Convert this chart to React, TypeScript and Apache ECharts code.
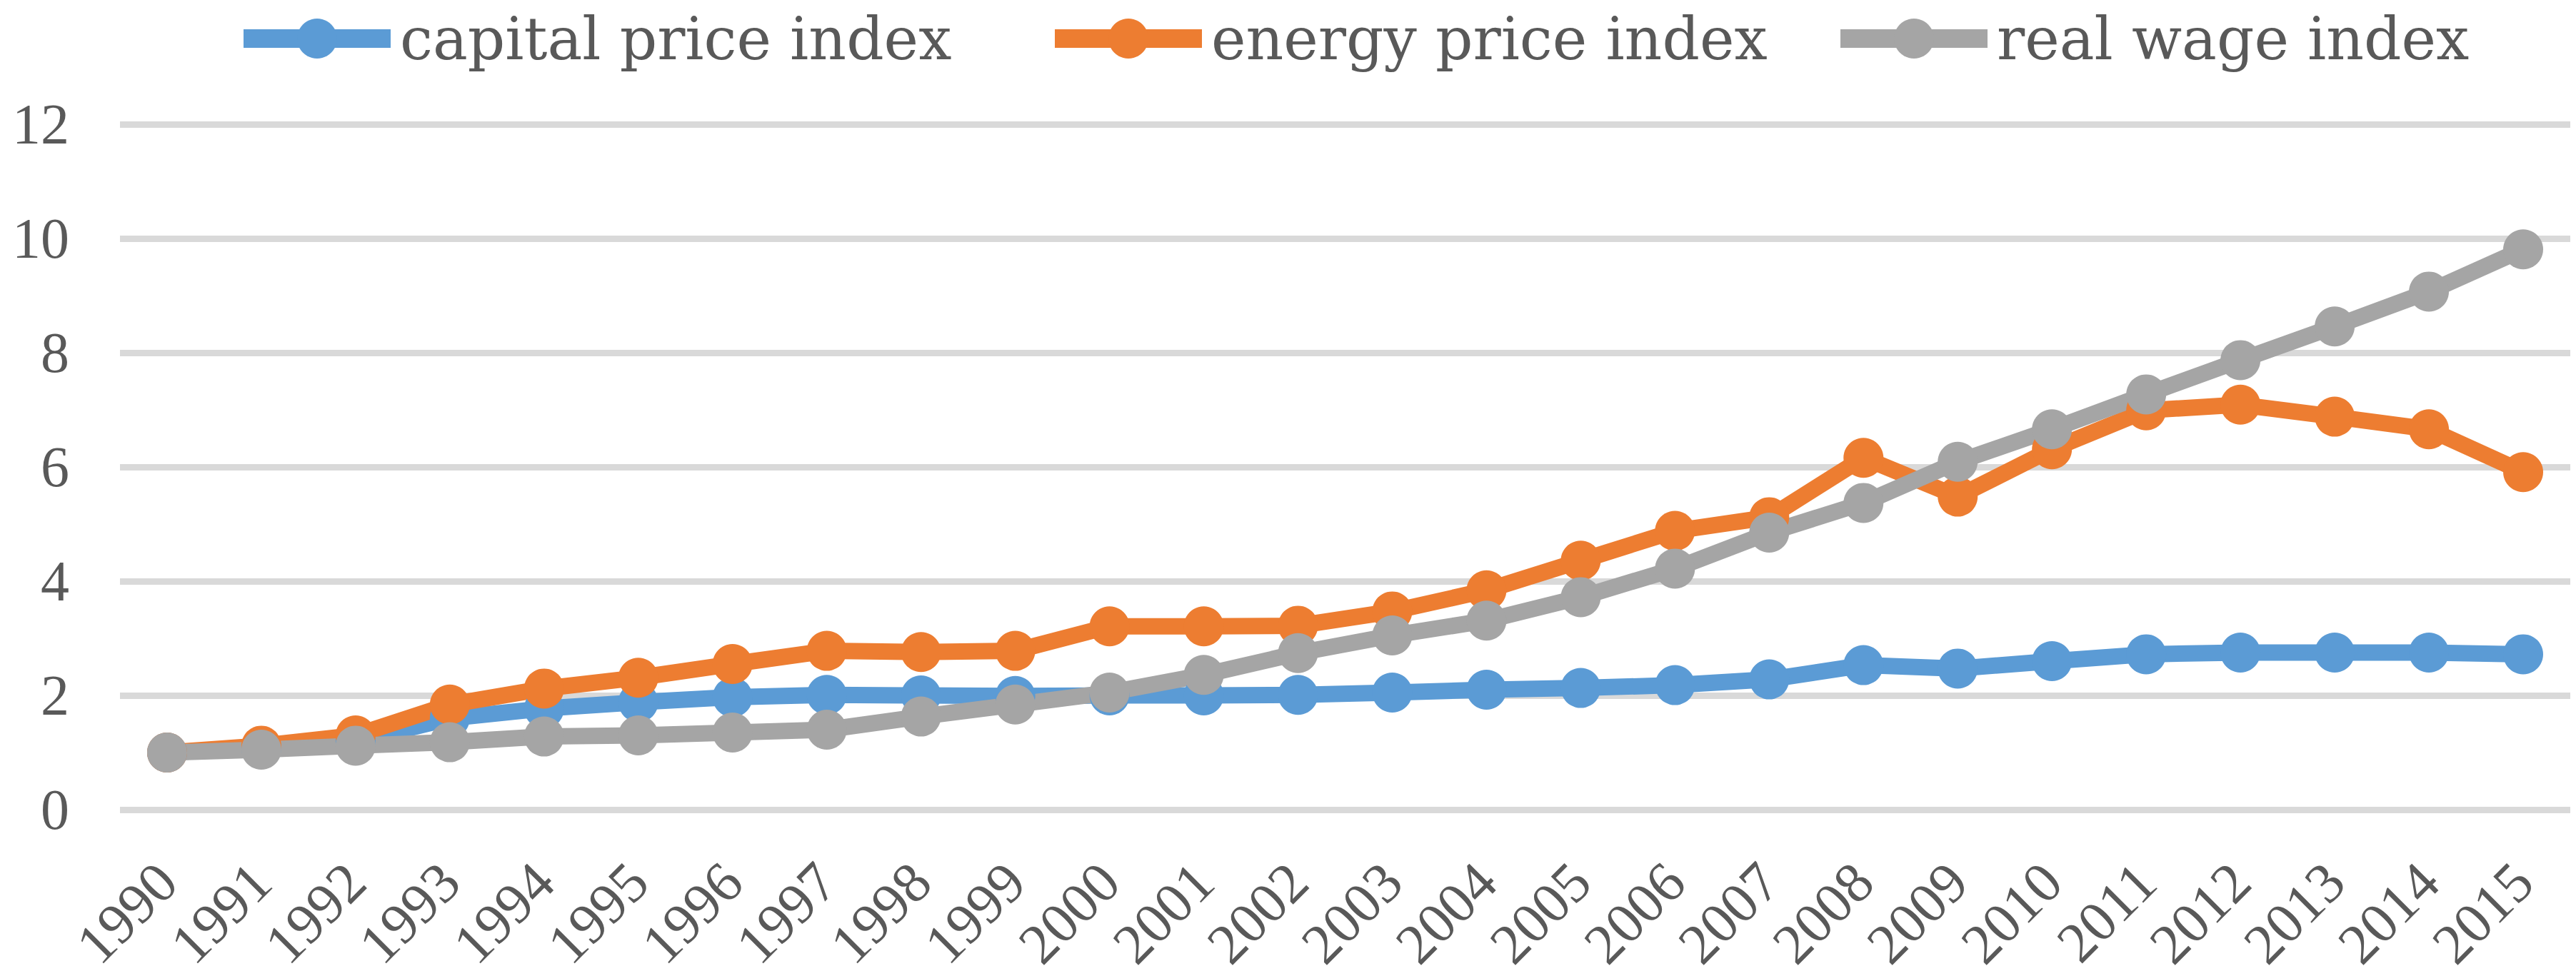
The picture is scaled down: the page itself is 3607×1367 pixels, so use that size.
import React, { useEffect, useRef } from "react";
import * as echarts from "echarts";

const years = [
  "1990", "1991", "1992", "1993", "1994", "1995", "1996", "1997", "1998",
  "1999", "2000", "2001", "2002", "2003", "2004", "2005", "2006", "2007",
  "2008", "2009", "2010", "2011", "2012", "2013", "2014", "2015",
];

const capitalPrice = [
  1.0, 1.08, 1.2, 1.6, 1.77, 1.88, 1.97, 2.01, 2.0, 1.99, 2.0, 2.0, 2.01,
  2.05, 2.1, 2.13, 2.18, 2.28, 2.53, 2.47, 2.6, 2.72, 2.75, 2.75, 2.75, 2.72,
];

const energyPrice = [
  1.0, 1.12, 1.3, 1.84, 2.12, 2.31, 2.55, 2.78, 2.76, 2.78, 3.21, 3.21, 3.22,
  3.47, 3.84, 4.36, 4.88, 5.12, 6.16, 5.48, 6.31, 6.99, 7.09, 6.88, 6.66, 5.91,
];

const realWage = [
  1.0, 1.05, 1.12, 1.18, 1.28, 1.3, 1.35, 1.4, 1.63, 1.84, 2.05, 2.36, 2.74,
  3.05, 3.31, 3.72, 4.22, 4.85, 5.37, 6.09, 6.66, 7.27, 7.87, 8.46, 9.07, 9.81,
];

const seriesNames = ["capital price index", "energy price index", "real wage index"];
const seriesColors = ["#5B9BD5", "#ED7D31", "#A5A5A5"];
const legendLefts = [323, 1459, 2559];

export default function App() {
  const ref = useRef<HTMLDivElement>(null);

  useEffect(() => {
    document.body.style.margin = "0";
    const chart = echarts.init(ref.current!, null, { renderer: "svg" });
    const dataSets = [capitalPrice, energyPrice, realWage];

    chart.setOption({
      animation: false,
      backgroundColor: "#ffffff",
      color: seriesColors,
      grid: { left: 168, right: 8, top: 174, bottom: 233, containLabel: false },
      legend: seriesNames.map((name, i) => ({
        data: [name],
        left: legendLefts[i],
        top: 8,
        itemWidth: 206,
        itemHeight: 70,
        selectedMode: false,
        lineStyle: { width: 26 },
        textStyle: {
          fontFamily: "DejaVu Serif",
          fontSize: 82,
          color: "#595959",
          lineHeight: 70,
          padding: [0, 0, 0, 8],
        },
      })),
      xAxis: {
        type: "category",
        data: years,
        boundaryGap: true,
        axisLine: { show: false },
        axisTick: { show: false },
        axisLabel: {
          interval: 0,
          rotate: 45,
          margin: 88,
          fontFamily: "Liberation Serif",
          fontSize: 80,
          color: "#595959",
        },
      },
      yAxis: {
        type: "value",
        min: 0,
        max: 12,
        interval: 2,
        axisLine: { show: false },
        axisTick: { show: false },
        axisLabel: {
          margin: 71,
          fontFamily: "Liberation Serif",
          fontSize: 80,
          color: "#595959",
        },
        splitLine: { lineStyle: { color: "#D9D9D9", width: 9 } },
      },
      series: seriesNames.map((name, i) => ({
        name,
        type: "line",
        data: dataSets[i],
        symbol: "circle",
        symbolSize: 56,
        lineStyle: { width: 23, color: seriesColors[i] },
        itemStyle: { color: seriesColors[i] },
        emphasis: { disabled: true },
      })),
    });

    return () => chart.dispose();
  }, []);

  return <div ref={ref} style={{ width: 3607, height: 1367 }} />;
}
